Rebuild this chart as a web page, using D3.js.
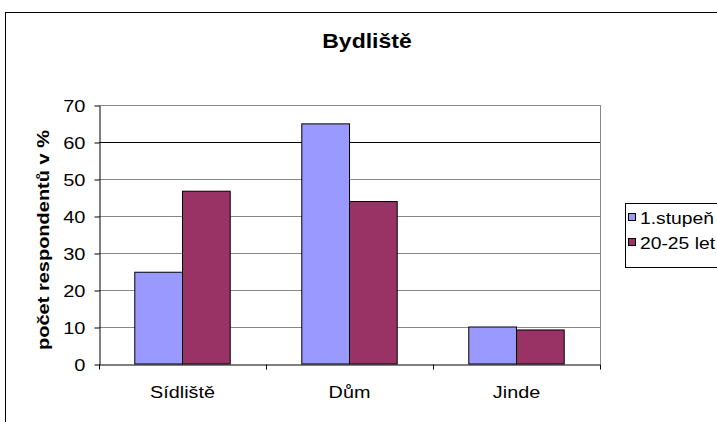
<!DOCTYPE html>
<html>
  <head>
    <meta charset="utf-8">
    <script src="https://d3js.org/d3.v7.min.js"></script>
    <style>
      body { margin: 0; background: white; font-family: "Liberation Sans", Arial, sans-serif; }
      text { font-family: "Liberation Sans", Arial, sans-serif; fill: black; }
    </style>
  </head>
  <body>
    <div id="chart"></div>
    <script>
      var categories = ["Sídliště", "Dům", "Jinde"];
      var seriesNames = ["1.stupeň", "20-25 let"];
      var firstGrade = [24.8, 64.9, 10];
      var age2025 = [46.7, 43.9, 9.2];
      var yTicks = [0, 10, 20, 30, 40, 50, 60, 70];
      var colors = ["#9999ff", "#993366"];

      var width = 717, height = 422;
      var plot = {left: 99, right: 600, top: 105, bottom: 364};

      // text in the original is wide along its own direction
      function stretch(sel, sx) {
        sel.each(function(){
          var t = d3.select(this);
          var x = +t.attr("x") || 0, yy = +t.attr("y") || 0;
          var prev = t.attr("transform") || "";
          t.attr("transform", prev + " translate(" + x + "," + yy + ") scale(" + sx + ",1) translate(" + (-x) + "," + (-yy) + ")");
        });
      }

      var svg = d3.select("#chart").append("svg")
        .attr("width", width)
        .attr("height", height);

      // outer chart frame (runs off the right and bottom)
      svg.append("rect")
        .attr("x", 5.5).attr("y", 12.5)
        .attr("width", 730).attr("height", 430)
        .attr("fill", "white").attr("stroke", "black");

      svg.append("text")
        .attr("x", 367).attr("y", 48)
        .attr("text-anchor", "middle")
        .attr("font-size", 20).attr("font-weight", "bold")
        .text("Bydliště")
        .call(stretch, 1.15);

      var x0 = d3.scaleBand().domain(categories).range([plot.left, plot.right]);
      var barW = x0.bandwidth() / 3.5;
      var y = d3.scaleLinear().domain([0, 70]).range([plot.bottom, plot.top]);

      // gridlines
      svg.append("g").selectAll("line")
        .data(yTicks.filter(function(d){ return d > 0; }))
        .enter().append("line")
          .attr("x1", plot.left).attr("x2", plot.right)
          .attr("y1", function(d){ return Math.round(y(d)) + 0.5; })
          .attr("y2", function(d){ return Math.round(y(d)) + 0.5; })
          .attr("stroke", function(d){ return d == 60 ? "#000" : "#888"; });

      // right plot edge
      svg.append("line")
        .attr("x1", plot.right + 0.5).attr("x2", plot.right + 0.5)
        .attr("y1", plot.top).attr("y2", plot.bottom)
        .attr("stroke", "#888");

      var data = categories.map(function(c, i){ return [firstGrade[i], age2025[i]]; });

      var groups = svg.append("g").selectAll("g")
        .data(data).enter().append("g")
          .attr("transform", function(d, i){
            return "translate(" + (x0(categories[i]) + x0.bandwidth() / 2 - barW) + ",0)";
          });

      groups.selectAll("rect")
        .data(function(d){ return d; })
        .enter().append("rect")
          .attr("x", function(d, j){ return j * barW; })
          .attr("y", function(d){ return y(d); })
          .attr("width", barW)
          .attr("height", function(d){ return y(0) - y(d); })
          .attr("fill", function(d, j){ return colors[j]; })
          .attr("stroke", "black").attr("stroke-width", 1);

      // y axis
      var yAxis = svg.append("g")
        .attr("transform", "translate(" + (plot.left + 0.5) + ",0.5)")
        .call(d3.axisLeft(y).tickValues(yTicks).tickSize(5).tickPadding(9).tickSizeOuter(0));
      yAxis.attr("font-family", null).attr("font-size", null);
      yAxis.selectAll("text").attr("font-size", 16).attr("dy", "0.36em").call(stretch, 1.25);
      yAxis.selectAll("line, path").attr("stroke", "black");

      // x axis
      var xAxis = svg.append("g")
        .attr("transform", "translate(0," + (plot.bottom + 0.5) + ")")
        .call(d3.axisBottom(x0).tickSize(0).tickPadding(0).tickSizeOuter(0));
      xAxis.attr("font-family", null).attr("font-size", null);
      xAxis.selectAll("text").attr("font-size", 16.5).attr("dy", null).attr("y", 34).call(stretch, 1.2);
      xAxis.select("path").attr("stroke", "black");
      xAxis.append("g").selectAll("line")
        .data(categories.concat(["end"]))
        .enter().append("line")
          .attr("x1", function(d, i){ return Math.round(plot.left + i * x0.bandwidth()) + 0.5; })
          .attr("x2", function(d, i){ return Math.round(plot.left + i * x0.bandwidth()) + 0.5; })
          .attr("y1", 0).attr("y2", 5)
          .attr("stroke", "black");

      svg.append("text")
        .attr("transform", "translate(49,240) rotate(-90)")
        .attr("text-anchor", "middle")
        .attr("font-size", 16).attr("font-weight", "bold")
        .text("počet respondentů v %")
        .call(stretch, 1.25);

      // legend
      var legend = svg.append("g");
      legend.append("rect")
        .attr("x", 625.5).attr("y", 203.5)
        .attr("width", 120).attr("height", 64)
        .attr("fill", "white").attr("stroke", "black");
      var items = legend.selectAll("g.item")
        .data(seriesNames).enter().append("g")
          .attr("transform", function(d, i){ return "translate(628," + (213 + i * 25) + ")"; });
      items.append("rect")
        .attr("x", 0.5).attr("y", 0.5).attr("width", 7).attr("height", 7)
        .attr("fill", function(d, i){ return colors[i]; })
        .attr("stroke", "black");
      items.append("text")
        .attr("x", 12).attr("y", 10.5)
        .attr("font-size", 16.5)
        .text(function(d){ return d; })
        .call(stretch, 1.17);
    </script>
  </body>
</html>
